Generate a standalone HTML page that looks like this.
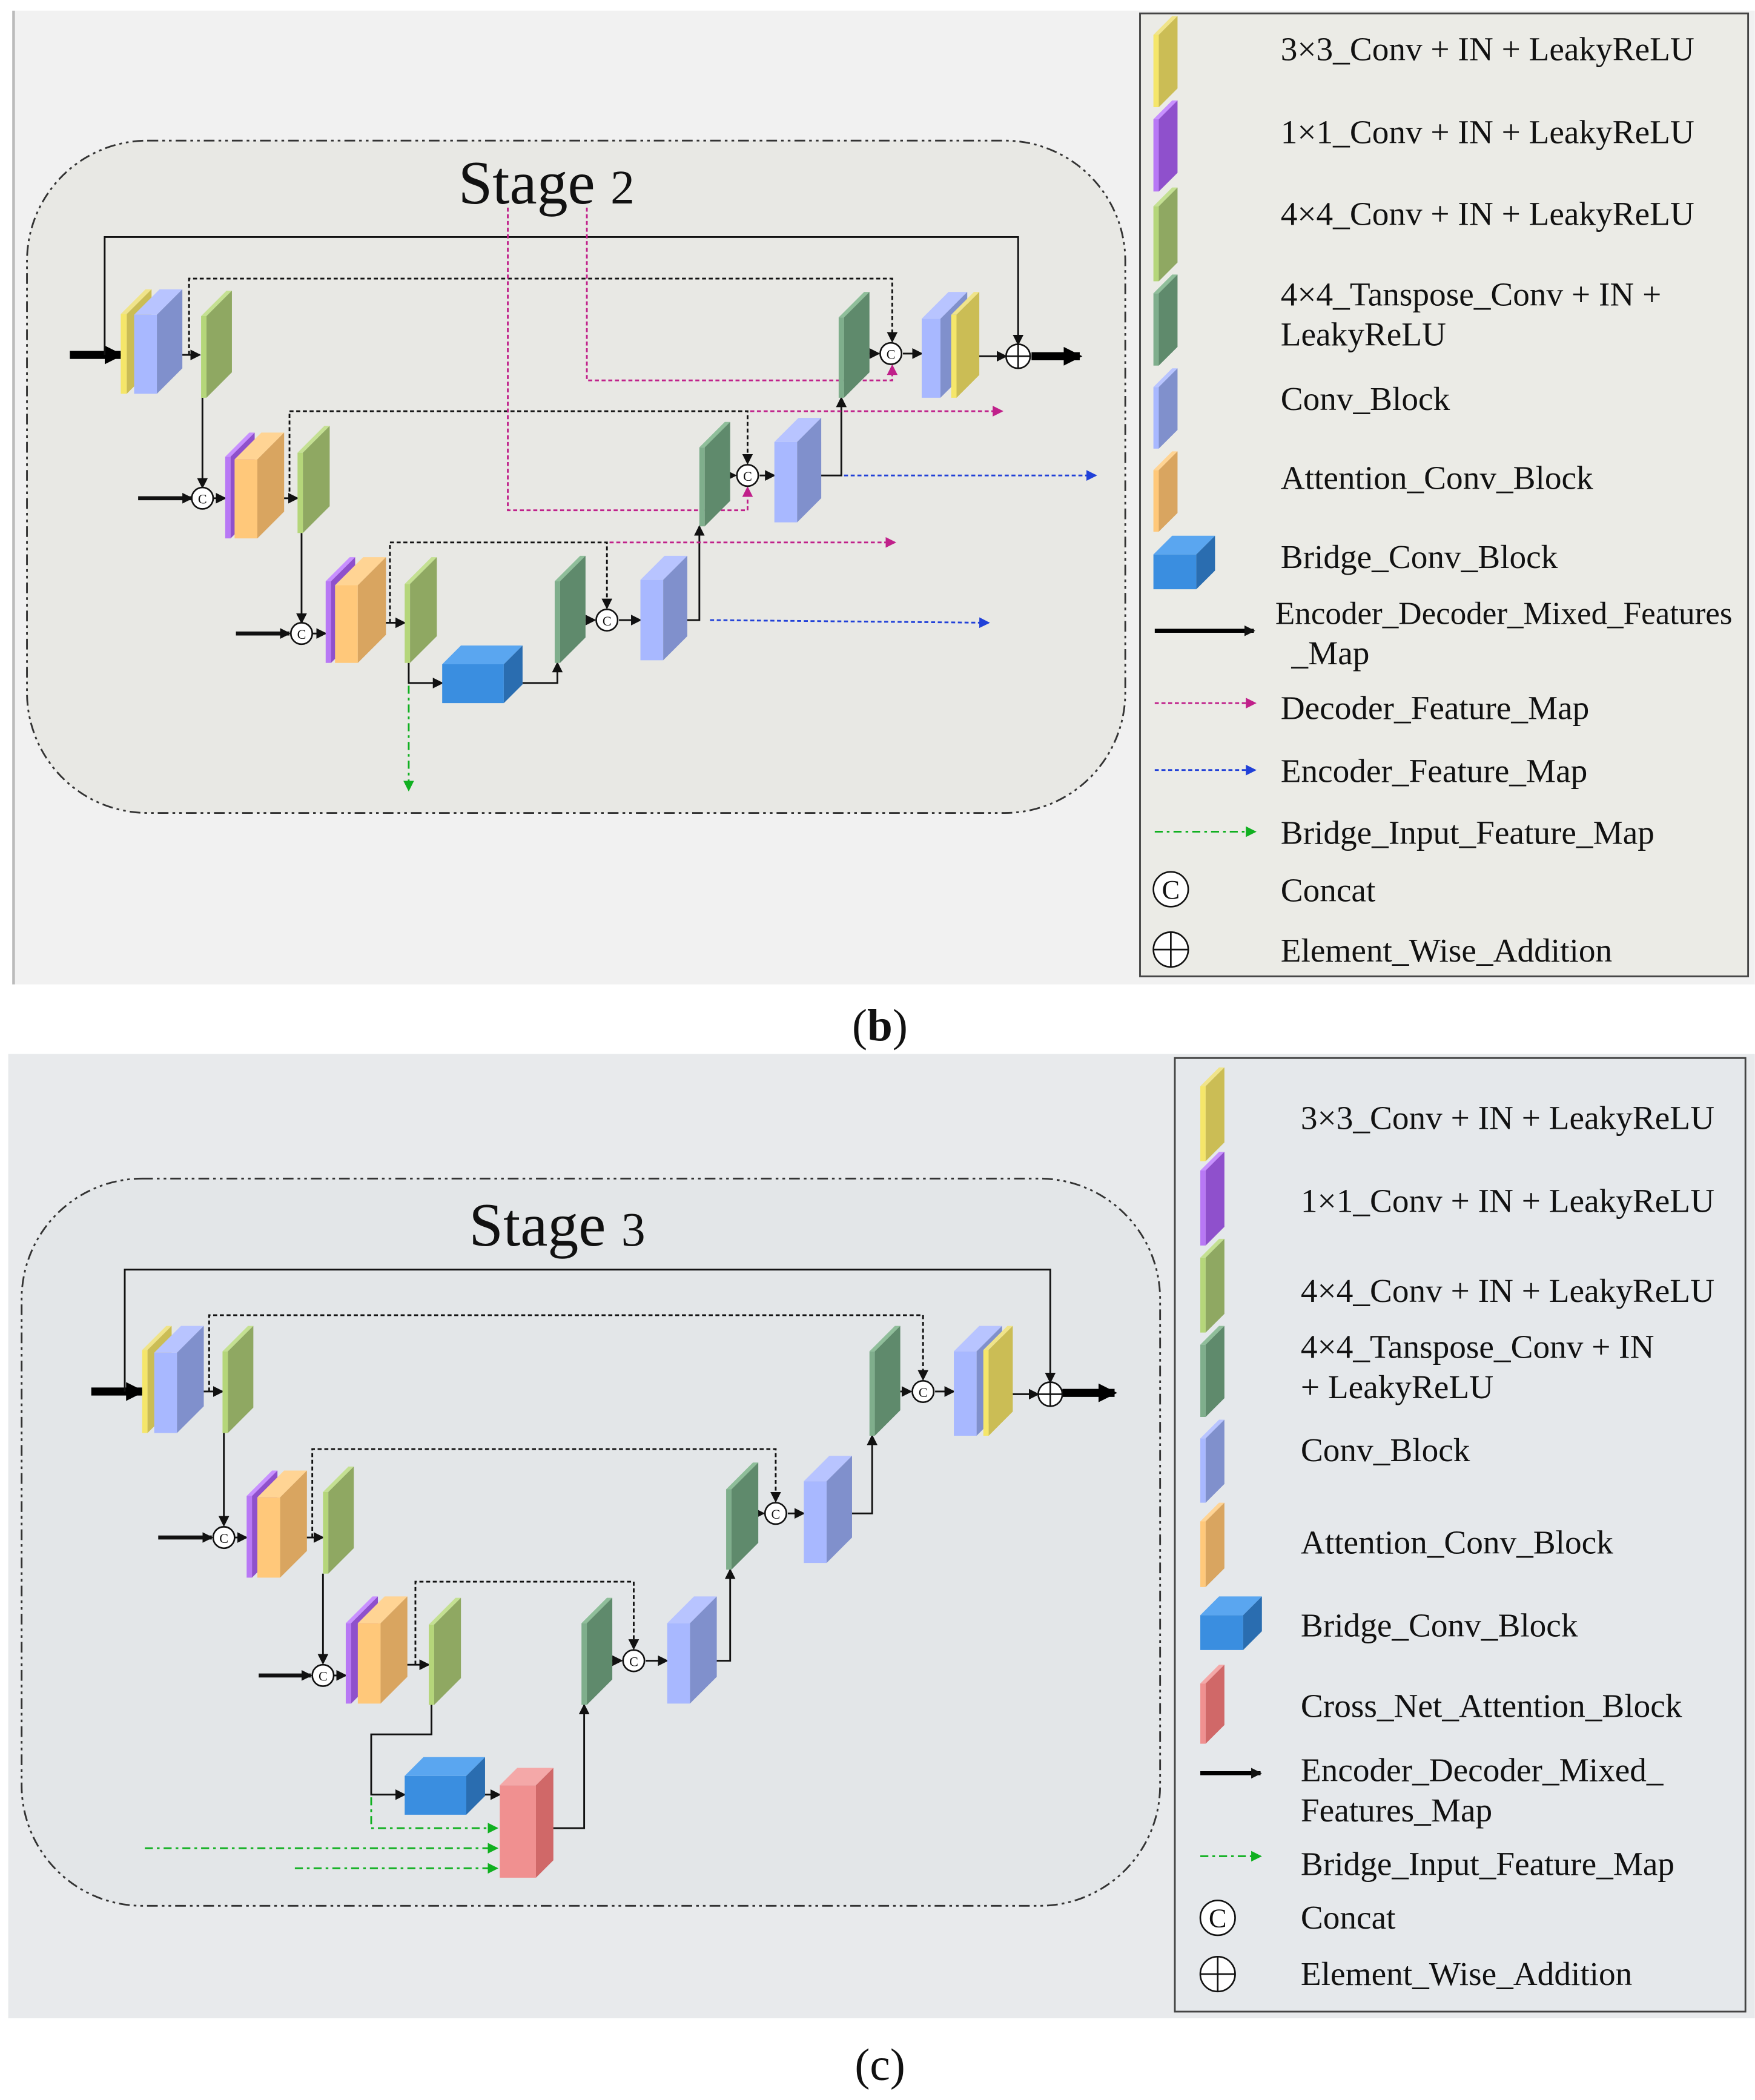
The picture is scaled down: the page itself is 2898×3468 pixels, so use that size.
<!DOCTYPE html>
<html><head><meta charset="utf-8"><style>
html,body{margin:0;padding:0;background:#fff;}
svg{display:block;}
text{font-family:"Liberation Serif",serif;fill:#111;}
</style></head><body>
<svg id="s" width="2898" height="3468" viewBox="0 0 1310 1568" xmlns="http://www.w3.org/2000/svg">
<defs>
<marker id="ak" markerUnits="userSpaceOnUse" markerWidth="8" markerHeight="8" refX="7" refY="4" orient="auto"><path d="M0,0 L8,4 L0,8 z" fill="#111"/></marker>
<marker id="akb" markerUnits="userSpaceOnUse" markerWidth="14" markerHeight="14" refX="12" refY="7" orient="auto"><path d="M0,0 L14,7 L0,14 z" fill="#000"/></marker>
<marker id="ap" markerUnits="userSpaceOnUse" markerWidth="8" markerHeight="8" refX="7" refY="4" orient="auto"><path d="M0,0 L8,4 L0,8 z" fill="#c0208a"/></marker>
<marker id="ab" markerUnits="userSpaceOnUse" markerWidth="8" markerHeight="8" refX="7" refY="4" orient="auto"><path d="M0,0 L8,4 L0,8 z" fill="#2040d8"/></marker>
<marker id="ag" markerUnits="userSpaceOnUse" markerWidth="8" markerHeight="8" refX="7" refY="4" orient="auto"><path d="M0,0 L8,4 L0,8 z" fill="#10b020"/></marker>
</defs>
<rect x="0" y="0" width="1310" height="1568" fill="#fff"/>
<rect x="9" y="8" width="1301" height="727" fill="#f1f1f1"/>
<line x1="10" y1="8" x2="10" y2="735" stroke="#bbb" stroke-width="2"/>
<rect x="20" y="105" width="820" height="502" rx="90" fill="#e8e8e4" stroke="#333" stroke-width="1.3" stroke-dasharray="8,3,2,3,2,3"/>
<rect x="851" y="10" width="454" height="719" fill="#ebebe6" stroke="#444" stroke-width="1.3"/>
<text x="342" y="152" font-size="46">Stage <tspan font-size="36">2</tspan></text>
<text x="636" y="777" font-size="34">(<tspan font-weight="bold">b</tspan>)</text>
<rect x="6" y="787" width="1304" height="720" fill="#e8eaec"/>
<rect x="16" y="880" width="850" height="543" rx="90" fill="#e3e6e8" stroke="#333" stroke-width="1.3" stroke-dasharray="8,3,2,3,2,3"/>
<rect x="877" y="790" width="426" height="712" fill="#e5e8eb" stroke="#444" stroke-width="1.3"/>
<text x="350" y="930" font-size="46">Stage <tspan font-size="36">3</tspan></text>
<text x="638" y="1553" font-size="34">(c)</text>

<g id="lines" fill="none" stroke="#111" stroke-width="1.3">
<line x1="52" y1="265" x2="90" y2="265" stroke="#000" stroke-width="6" marker-end="url(#akb)"/>
<line x1="770" y1="266" x2="806" y2="266" stroke="#000" stroke-width="6" marker-end="url(#akb)"/>
<polyline points="78,265 78,177 760,177 760,257" marker-end="url(#ak)"/>
<polyline points="141,265 141,208 666,208 666,255" stroke-dasharray="3,2" marker-end="url(#ak)"/>
<line x1="125" y1="265" x2="149" y2="265" marker-end="url(#ak)"/>
<line x1="151" y1="297" x2="151" y2="364" marker-end="url(#ak)"/>
<line x1="103" y1="372" x2="143" y2="372" stroke-width="3" marker-end="url(#ak)"/>
<line x1="159" y1="372" x2="168" y2="372" marker-end="url(#ak)"/>
<line x1="208" y1="372" x2="222" y2="372" marker-end="url(#ak)"/>
<polyline points="216,372 216,307 558,307 558,346" stroke-dasharray="3,2" marker-end="url(#ak)"/>
<line x1="225" y1="398" x2="225" y2="465" marker-end="url(#ak)"/>
<line x1="176" y1="473" x2="216" y2="473" stroke-width="3" marker-end="url(#ak)"/>
<line x1="233" y1="473" x2="243" y2="473" marker-end="url(#ak)"/>
<line x1="284" y1="465" x2="302" y2="465" marker-end="url(#ak)"/>
<polyline points="291,465 291,405 453,405 453,454" stroke-dasharray="3,2" marker-end="url(#ak)"/>
<polyline points="305,495 305,510 330,510" marker-end="url(#ak)"/>
<polyline points="390,510 416,510 416,495" marker-end="url(#ak)"/>
<line x1="437" y1="463" x2="444" y2="463" marker-end="url(#ak)"/>
<line x1="462" y1="463" x2="478" y2="463" marker-end="url(#ak)"/>
<polyline points="502,463 522,463 522,393" marker-end="url(#ak)"/>
<line x1="545" y1="355" x2="549" y2="355" marker-end="url(#ak)"/>
<line x1="567" y1="355" x2="578" y2="355" marker-end="url(#ak)"/>
<polyline points="602,355 628,355 628,297" marker-end="url(#ak)"/>
<line x1="649" y1="264" x2="656" y2="264" marker-end="url(#ak)"/>
<line x1="674" y1="264" x2="688" y2="264" marker-end="url(#ak)"/>
<line x1="730" y1="266" x2="751" y2="266" marker-end="url(#ak)"/>
<line x1="305" y1="512" x2="305" y2="590" stroke="#10b020" stroke-dasharray="6,3,2,3" marker-end="url(#ag)"/>
<line x1="530" y1="463" x2="738" y2="465" stroke="#2040d8" stroke-dasharray="3,2" marker-end="url(#ab)"/>
<line x1="630" y1="355" x2="818" y2="355" stroke="#2040d8" stroke-dasharray="3,2" marker-end="url(#ab)"/>
<polyline points="379,155 379,381 558,381 558,364" stroke="#c0208a" stroke-dasharray="3,2" marker-end="url(#ap)"/>
<polyline points="438,155 438,284 666,284 666,273" stroke="#c0208a" stroke-dasharray="3,2" marker-end="url(#ap)"/>
<line x1="560" y1="307" x2="748" y2="307" stroke="#c0208a" stroke-dasharray="3,2" marker-end="url(#ap)"/>
<line x1="455" y1="405" x2="668" y2="405" stroke="#c0208a" stroke-dasharray="3,2" marker-end="url(#ap)"/>
<line x1="68" y1="1039" x2="106" y2="1039" stroke="#000" stroke-width="6" marker-end="url(#akb)"/>
<line x1="793" y1="1040" x2="832" y2="1040" stroke="#000" stroke-width="6" marker-end="url(#akb)"/>
<polyline points="93,1039 93,948 784,948 784,1032" marker-end="url(#ak)"/>
<polyline points="156,1039 156,982 689,982 689,1030" stroke-dasharray="3,2" marker-end="url(#ak)"/>
<line x1="140" y1="1039" x2="166" y2="1039" marker-end="url(#ak)"/>
<line x1="167" y1="1070" x2="167" y2="1139" marker-end="url(#ak)"/>
<line x1="118" y1="1148" x2="158" y2="1148" stroke-width="3" marker-end="url(#ak)"/>
<line x1="175" y1="1148" x2="184" y2="1148" marker-end="url(#ak)"/>
<line x1="225" y1="1148" x2="241" y2="1148" marker-end="url(#ak)"/>
<polyline points="233,1148 233,1082 579,1082 579,1121" stroke-dasharray="3,2" marker-end="url(#ak)"/>
<line x1="241" y1="1175" x2="241" y2="1242" marker-end="url(#ak)"/>
<line x1="193" y1="1251" x2="232" y2="1251" stroke-width="3" marker-end="url(#ak)"/>
<line x1="249" y1="1251" x2="258" y2="1251" marker-end="url(#ak)"/>
<line x1="300" y1="1243" x2="320" y2="1243" marker-end="url(#ak)"/>
<polyline points="310,1243 310,1181 473,1181 473,1231" stroke-dasharray="3,2" marker-end="url(#ak)"/>
<polyline points="322,1273 322,1295 277,1295 277,1340 302,1340" marker-end="url(#ak)"/>
<line x1="362" y1="1340" x2="373" y2="1340" marker-end="url(#ak)"/>
<polyline points="408,1365 436,1365 436,1273" marker-end="url(#ak)"/>
<polyline points="277,1342 277,1365 371,1365" stroke="#10b020" stroke-dasharray="6,3,2,3" marker-end="url(#ag)"/>
<line x1="108" y1="1380" x2="371" y2="1380" stroke="#10b020" stroke-dasharray="6,3,2,3" marker-end="url(#ag)"/>
<line x1="220" y1="1395" x2="371" y2="1395" stroke="#10b020" stroke-dasharray="6,3,2,3" marker-end="url(#ag)"/>
<line x1="457" y1="1240" x2="464" y2="1240" marker-end="url(#ak)"/>
<line x1="482" y1="1240" x2="498" y2="1240" marker-end="url(#ak)"/>
<polyline points="525,1240 545,1240 545,1172" marker-end="url(#ak)"/>
<line x1="566" y1="1130" x2="570" y2="1130" marker-end="url(#ak)"/>
<line x1="588" y1="1130" x2="600" y2="1130" marker-end="url(#ak)"/>
<polyline points="626,1130 651,1130 651,1072" marker-end="url(#ak)"/>
<line x1="672" y1="1039" x2="680" y2="1039" marker-end="url(#ak)"/>
<line x1="698" y1="1039" x2="712" y2="1039" marker-end="url(#ak)"/>
<line x1="756" y1="1041" x2="775" y2="1041" marker-end="url(#ak)"/>
<line x1="862" y1="471" x2="936" y2="471" stroke="#000" stroke-width="3" marker-end="url(#ak)"/>
<line x1="862" y1="525" x2="937" y2="525" stroke="#c0208a" stroke-dasharray="3,2" marker-end="url(#ap)"/>
<line x1="862" y1="575" x2="937" y2="575" stroke="#2040d8" stroke-dasharray="3,2" marker-end="url(#ab)"/>
<line x1="862" y1="621" x2="937" y2="621" stroke="#10b020" stroke-dasharray="6,3,2,3" marker-end="url(#ag)"/>
<line x1="896" y1="1324" x2="941" y2="1324" stroke="#000" stroke-width="3" marker-end="url(#ak)"/>
<line x1="896" y1="1386" x2="941" y2="1386" stroke="#10b020" stroke-dasharray="6,3,2,3" marker-end="url(#ag)"/>
</g>
<g id="blocks"></g>
<g id="circ" fill="#fff" stroke="#111" stroke-width="1.2"></g>
<g font-size="10" text-anchor="middle">
<text x="151" y="376">C</text><text x="225" y="477">C</text><text x="453" y="467">C</text><text x="558" y="359">C</text><text x="665" y="268">C</text>
<text x="167" y="1152">C</text><text x="241" y="1255">C</text><text x="473" y="1244">C</text><text x="579" y="1134">C</text><text x="689" y="1043">C</text>
</g>
<g font-size="25">
<text x="956" y="45">3×3_Conv + IN + LeakyReLU</text>
<text x="956" y="107">1×1_Conv + IN + LeakyReLU</text>
<text x="956" y="168">4×4_Conv + IN + LeakyReLU</text>
<text x="956" y="228">4×4_Tanspose_Conv + IN +</text>
<text x="956" y="258">LeakyReLU</text>
<text x="956" y="306">Conv_Block</text>
<text x="956" y="365">Attention_Conv_Block</text>
<text x="956" y="424">Bridge_Conv_Block</text>
<text x="952" y="466" font-size="24">Encoder_Decoder_Mixed_Features</text>
<text x="964" y="496">_Map</text>
<text x="956" y="537">Decoder_Feature_Map</text>
<text x="956" y="584">Encoder_Feature_Map</text>
<text x="956" y="630">Bridge_Input_Feature_Map</text>
<text x="956" y="673">Concat</text>
<text x="956" y="718">Element_Wise_Addition</text>
<text x="971" y="843">3×3_Conv + IN + LeakyReLU</text>
<text x="971" y="905">1×1_Conv + IN + LeakyReLU</text>
<text x="971" y="972">4×4_Conv + IN + LeakyReLU</text>
<text x="971" y="1014">4×4_Tanspose_Conv + IN</text>
<text x="971" y="1044">+ LeakyReLU</text>
<text x="971" y="1091">Conv_Block</text>
<text x="971" y="1160">Attention_Conv_Block</text>
<text x="971" y="1222">Bridge_Conv_Block</text>
<text x="971" y="1282">Cross_Net_Attention_Block</text>
<text x="971" y="1330">Encoder_Decoder_Mixed_</text>
<text x="971" y="1360">Features_Map</text>
<text x="971" y="1400">Bridge_Input_Feature_Map</text>
<text x="971" y="1440">Concat</text>
<text x="971" y="1482">Element_Wise_Addition</text>
</g>
<g font-size="20" text-anchor="middle"><text x="874" y="671">C</text><text x="909" y="1439">C</text></g>
</svg>
<script>
var NS="http://www.w3.org/2000/svg";
var C={Y:["#f5e66a","#f0e48a","#cbbd55"],B:["#a8b8ff","#b8c4ff","#8090cc"],G:["#b5d67a","#c4e092","#8fa862"],
DG:["#7fae8c","#8fbe9a","#5f8a6c"],O:["#ffc87a","#ffd494","#d9a560"],P:["#b878f5","#c890ff","#8f50cc"],
BR:["#3a8ee0","#5aa6f0","#2a6db0"],R:["#f09090","#f4a8a8","#d06868"]};
var g=document.getElementById("blocks");
function poly(p,f){var e=document.createElementNS(NS,"polygon");e.setAttribute("points",p.map(function(a){return a.join(",")}).join(" "));e.setAttribute("fill",f);g.appendChild(e);}
function blk(x0,y0,x1,y1,w,c){var d=x1-x0-w,col=C[c];
poly([[x0,y0+d],[x0+w,y0+d],[x0+w,y1],[x0,y1]],col[0]);
poly([[x0,y0+d],[x0+d,y0],[x1,y0],[x0+w,y0+d]],col[1]);
poly([[x0+w,y0+d],[x1,y0],[x1,y1-d],[x0+w,y1]],col[2]);}
var L=[[90,216,113,294,4.5,"Y"],[100,216,136,294,17,"B"],[150,217,173,297,4,"G"],
[168,323,190,402,4,"P"],[175,323,212,402,17,"O"],[222,318,246,398,4,"G"],
[243,416,265,495,4,"P"],[250,416,288,495,17,"O"],[302,416,326,495,4,"G"],
[330,482,390,525,46,"BR"],[414,415,437,495,4,"DG"],[478,415,513,493,17,"B"],
[522,315,545,393,4,"DG"],[578,312,613,390,17,"B"],[626,218,649,297,4,"DG"],
[688,218,722,297,14,"B"],[710,218,731,297,4,"Y"],
[106,990,128,1070,4,"Y"],[115,990,152,1070,17,"B"],[166,990,189,1070,4,"G"],
[184,1098,207,1178,4,"P"],[192,1098,229,1178,17,"O"],[241,1095,264,1175,4,"G"],
[258,1192,282,1272,4,"P"],[267,1192,304,1272,17,"O"],[320,1193,344,1273,4,"G"],
[302,1312,362,1355,46,"BR"],[373,1320,413,1402,27,"R"],[434,1193,457,1273,4,"DG"],
[498,1192,535,1272,17,"B"],[542,1092,566,1172,4,"DG"],[600,1087,636,1167,17,"B"],
[649,990,672,1072,4,"DG"],[712,990,748,1072,17,"B"],[734,990,756,1072,4,"Y"],
[861,12,879,80,4,"Y"],[861,75,879,143,4,"P"],[861,140,879,210,4,"G"],[861,205,879,273,4,"DG"],
[861,275,879,335,4,"B"],[861,337,879,397,4,"O"],[861,400,907,440,32,"BR"],
[896,797,914,867,4,"Y"],[896,860,914,930,4,"P"],[896,925,914,995,4,"G"],[896,990,914,1058,4,"DG"],
[896,1060,914,1122,4,"B"],[896,1122,914,1185,4,"O"],[896,1192,942,1232,32,"BR"],[896,1243,914,1302,4,"R"]];
L.forEach(function(a){blk.apply(null,a);});
var cg=document.getElementById("circ");
function circ(x,y,r,plus){var e=document.createElementNS(NS,"circle");e.setAttribute("cx",x);e.setAttribute("cy",y);e.setAttribute("r",r);cg.appendChild(e);
if(plus){var p=document.createElementNS(NS,"path");p.setAttribute("d","M"+(x-r)+","+y+"H"+(x+r)+"M"+x+","+(y-r)+"V"+(y+r));cg.appendChild(p);}}
[[151,372],[225,473],[453,463],[558,355],[665,264],[167,1148],[241,1251],[473,1240],[579,1130],[689,1039]].forEach(function(a){circ(a[0],a[1],8,false);});
circ(760,266,9,true);circ(784,1041,9,true);circ(874,664,13,false);circ(874,709,13,true);circ(909,1432,13,false);circ(909,1474,13,true);
</script>
</body></html>
